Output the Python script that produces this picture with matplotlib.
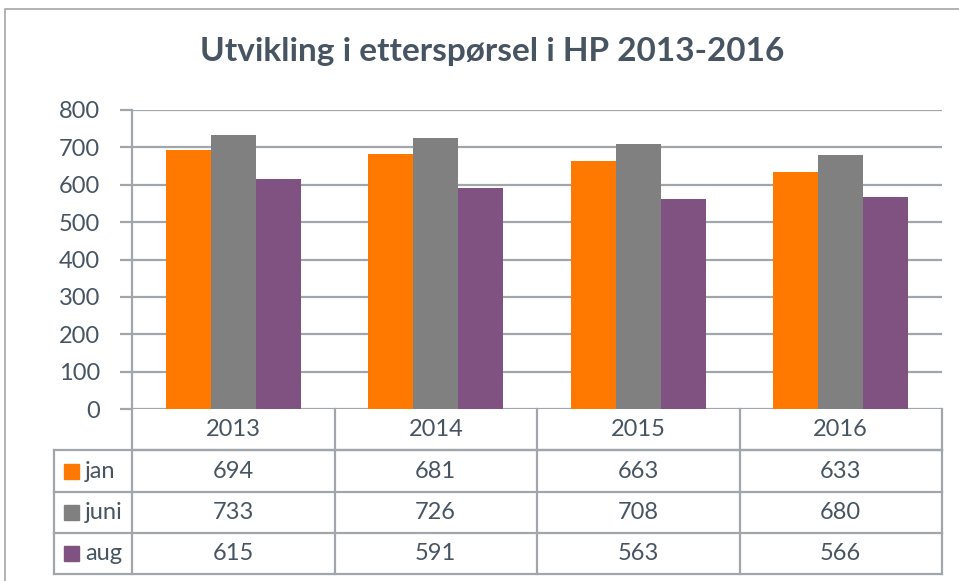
import matplotlib.pyplot as plt
from matplotlib.patches import Rectangle
import matplotlib.transforms as mtransforms
import numpy as np

years = ['2013', '2014', '2015', '2016']
series = ['jan', 'juni', 'aug']
jan = [694, 681, 663, 633]
juni = [733, 726, 708, 680]
aug = [615, 591, 563, 566]
values = [jan, juni, aug]
colors = ['#FF7800', '#808080', '#7F5282']

text_c = '#475563'
grid_c = '#A2A5A9'
table_c = '#A2A5A9'
fs = 17

plt.rcParams['font.family'] = ['Lato', 'DejaVu Sans']

W, H = 959, 581
fig = plt.figure(figsize=(W / 100, H / 100), dpi=100)

# outer chart border
fig.patches.append(Rectangle((5 / W, -0.1), 1.2, (H - 9) / H + 0.1, transform=fig.transFigure,
                             fill=False, edgecolor='#A6A6A6', lw=1.2))

x0, x1, ytop, ybot = 132, 942, 110, 409
ax = fig.add_axes([x0 / W, (H - ybot) / H, (x1 - x0) / W, (ybot - ytop) / H])

x = np.arange(len(years))
bw = 0.222
for i, (s, v) in enumerate(zip(series, values)):
    ax.bar(x + (i - 1) * bw, v, width=bw, color=colors[i], zorder=3)

ax.set_xlim(-0.5, len(years) - 0.5)
ax.set_ylim(0, 800)
ax.set_yticks(np.arange(0, 801, 100))
ax.yaxis.grid(True, color=grid_c, lw=1.6, zorder=0)
ax.tick_params(axis='y', length=9, width=1.6, color=grid_c, labelsize=fs, labelcolor=text_c, pad=14)
ax.tick_params(axis='x', bottom=False, labelbottom=False)
for side in ['top', 'right', 'bottom']:
    ax.spines[side].set_visible(False)
ax.spines['left'].set_color(grid_c)
ax.spines['left'].set_linewidth(1.6)

fig.text(492 / W, 1 - 52 / H, 'Utvikling i etterspørsel i HP 2013-2016', fontsize=24,
         fontweight='bold', color=text_c, ha='center', va='center')

# data table below the plot
tr = mtransforms.blended_transform_factory(ax.transData, ax.transAxes)
ph = ybot - ytop
rows_px = [409, 450, 492, 533, 574]
rows = [(ybot - r) / ph for r in rows_px]
left = -0.5 - 78 / ((x1 - x0) / len(years))
kw = dict(transform=tr, color=table_c, lw=1.6, clip_on=False)

# header row
ax.plot([-0.5, len(years) - 0.5], [rows[1], rows[1]], **kw)
for k in range(len(years) + 1):
    ax.plot([k - 0.5, k - 0.5], [rows[0], rows[4]], **kw)
for r in rows[1:]:
    ax.plot([left, len(years) - 0.5], [r, r], **kw)
ax.plot([left, left], [rows[1], rows[4]], **kw)

for k, yr in enumerate(years):
    ax.text(k, (rows[0] + rows[1]) / 2, yr, transform=tr, ha='center', va='center',
            fontsize=fs, color=text_c)

sq_w = 0.074
for i, (s, v) in enumerate(zip(series, values)):
    yc = (rows[i + 1] + rows[i + 2]) / 2
    sq_h = 15 / ph
    ax.add_patch(Rectangle((left + 0.05, yc - sq_h / 2), sq_w, sq_h, transform=tr,
                           color=colors[i], clip_on=False))
    ax.text(left + 0.05 + sq_w + 0.03, yc, s, transform=tr, ha='left', va='center',
            fontsize=fs, color=text_c)
    for k, val in enumerate(v):
        ax.text(k, yc, str(val), transform=tr, ha='center', va='center',
                fontsize=fs, color=text_c)

fig.savefig('out.png', dpi=100)
